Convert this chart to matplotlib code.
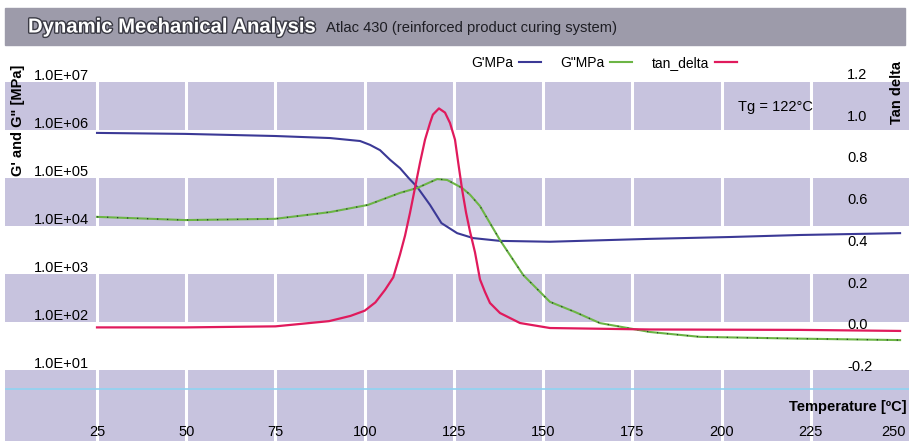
import numpy as np
import matplotlib
matplotlib.use("Agg")
import matplotlib.pyplot as plt
import matplotlib.transforms as mtransforms
import matplotlib.patheffects as pe
from matplotlib.patches import Rectangle

plt.rcParams['font.family'] = ['Liberation Sans', 'DejaVu Sans']

# ---- data ----
temp_gp = [25, 49.7, 74.9, 90.3, 98.7, 101.5, 104.3, 107.1, 109.9, 112.3, 114.7,
           118.3, 121.5, 125.9, 130.4, 137.9, 151.9, 179.9, 202.4, 222, 250]
g_prime = [8.7e5, 8.3e5, 7.5e5, 6.8e5, 5.9e5, 4.9e5, 3.8e5, 2.4e5, 1.6e5, 1.0e5, 6.5e4,
           2.75e4, 1.15e4, 7.1e3, 5.6e3, 4.9e3, 4.7e3, 5.4e3, 5.9e3, 6.5e3, 7.1e3]

temp_gpp = [25, 49.7, 74.9, 90.3, 100.9, 109.9, 114.7, 120.3, 123.1, 127.3, 129.5,
            132.3, 135.1, 137.9, 144.4, 151.9, 158.9, 165.9, 179.9, 194, 222, 250]
g_dprime = [1.55e4, 1.33e4, 1.41e4, 1.95e4, 2.75e4, 4.9e4, 6.2e4, 9.5e4, 9.1e4, 6.2e4, 4.5e4,
            2.6e4, 1.15e4, 5.1e3, 955, 263, 162, 95, 62, 49, 45, 42]

temp_tan = [25, 50, 75, 90, 96, 100, 103, 105.7, 108, 109.9, 111.3, 112.7, 114.1, 115.5,
            116.9, 118.3, 119.1, 120.8, 122.5, 123.9, 125.3, 126.2, 127.3, 128.4, 129.5,
            130.9, 132.3, 133.7, 135.1, 137.9, 143.5, 151.9, 180, 222, 250]
tan_delta = [-0.01, -0.01, -0.005, 0.02, 0.045, 0.07, 0.11, 0.17, 0.23, 0.34, 0.43, 0.54,
             0.66, 0.78, 0.89, 0.97, 1.01, 1.04, 1.02, 0.97, 0.89, 0.78, 0.65, 0.54, 0.45,
             0.35, 0.22, 0.16, 0.107, 0.059, 0.011, -0.013, -0.02, -0.022, -0.027]

x_ticks = [25, 50, 75, 100, 125, 150, 175, 200, 225, 250]
left_ticks = [1e7, 1e6, 1e5, 1e4, 1e3, 1e2, 1e1]
left_labels = ['1.0E+07', '1.0E+06', '1.0E+05', '1.0E+04', '1.0E+03', '1.0E+02', '1.0E+01']
right_ticks = [1.2, 1.0, 0.8, 0.6, 0.4, 0.2, 0.0, -0.2]

lavender = '#c7c3de'
W, H = 909, 441

fig = plt.figure(figsize=(W / 100, H / 100), dpi=100)
ax = fig.add_axes([5 / W, 0, 904 / W, (H - 45) / H])
ax.set_xlim(-0.78, 252.5)
ax.set_yscale('log')
ax.set_ylim(10 ** -0.479, 10 ** 7.771)
ax2 = ax.twinx()
ax2.set_ylim(-0.5547, 1.344)

for a in (ax, ax2):
    for s in a.spines.values():
        s.set_visible(False)
    a.set_xticks([])
    a.set_yticks([])
    a.minorticks_off()

# background bands and white vertical gaps
for lo, hi in [(1e6, 1e7), (1e4, 1e5), (1e2, 1e3), (10 ** -0.479, 1e1)]:
    ax.axhspan(lo, hi, color=lavender, zorder=0, lw=0)
for t in x_ticks[:-1]:
    ax.axvline(t, color='white', lw=2.2, zorder=1)
ax.axhline(4.0, color='#8fd3f2', lw=1.2, zorder=1)

# curves
ax.plot(temp_gp, g_prime, color='#3b3996', lw=1.5, zorder=3, label="G'MPa")
ax.plot(temp_gpp, g_dprime, color='#6cb545', lw=1.5, zorder=3, label='G"MPa')
ax.plot(temp_gpp, g_dprime, color='#24432a', lw=0.9, ls=(0, (1, 7)), zorder=3)
ax2.plot(temp_tan, tan_delta, color='#e01a5c', lw=1.6, zorder=3, label='tan_delta')

# tick labels drawn inside the plot area
ylab_tr = mtransforms.offset_copy(ax.get_yaxis_transform(), fig=fig, y=6, units='dots')
for v, lab in zip(left_ticks, left_labels):
    ax.text(84 / 904, v, lab, transform=ylab_tr, ha='right', va='center', fontsize=10.5)
for v in right_ticks:
    ax2.text(842 / 904, v, f'{v:.1f}', transform=ax2.get_yaxis_transform(),
             ha='left', va='center', fontsize=10.5)
xlab_tr = ax.get_xaxis_transform()
for t in x_ticks:
    ha = 'right' if t == x_ticks[-1] else 'center'
    xx = 251.5 if t == x_ticks[-1] else t
    ax.text(xx, 9 / 396, str(t), transform=xlab_tr, ha=ha, va='center', fontsize=10.5)

ax.text(1.0 - 2 / 904, 34 / 396, 'Temperature [ºC]', transform=ax.transAxes,
        ha='right', va='center', fontsize=10.5, fontweight='bold')
ax.text(770 / 904, 1 - 62 / 396, 'Tg = 122°C', transform=ax.transAxes,
        ha='center', va='center', fontsize=10.5)
fig.text(897 / W, 1 - 93 / H, 'Tan delta', rotation=90, ha='center', va='center',
         fontsize=10.5, fontweight='bold')
fig.text(18 / W, 1 - 120 / H, 'G\' and G" [MPa]', rotation=90, ha='center', va='center',
         fontsize=10.5, fontweight='bold')

# legend: text before the line sample
h1, lab1 = ax.get_legend_handles_labels()
h2, lab2 = ax2.get_legend_handles_labels()
fig.legend(h1 + h2, lab1 + lab2, ncol=3, markerfirst=False, frameon=False,
           loc='center', bbox_to_anchor=(604 / W, 1 - 63 / H), fontsize=10,
           handlelength=1.6, handletextpad=0.4, columnspacing=1.4)

# title bar
fig.patches.append(Rectangle((5 / W, 1 - 45 / H), 900 / W, 37 / H, transform=fig.transFigure,
                             color='#9d9baa', zorder=0))
fig.text(28 / W, 1 - 27 / H, 'Dynamic Mechanical Analysis', color='white', fontweight='bold',
         fontsize=14.6, va='center', ha='left',
         path_effects=[pe.withStroke(linewidth=2, foreground='#3a3a44')])
fig.text(326 / W, 1 - 28 / H, 'Atlac 430 (reinforced product curing system)', color='#1e1e24',
         fontsize=10.6, va='center', ha='left')

fig.savefig('out.png', dpi=100)
